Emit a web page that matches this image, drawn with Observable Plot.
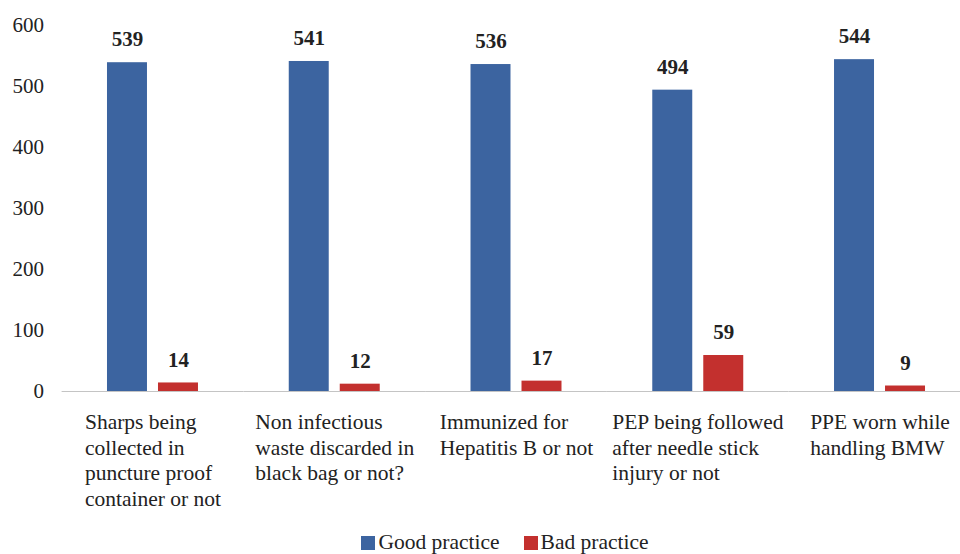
<!DOCTYPE html>
<html>
<head>
<meta charset="utf-8">
<script src="https://cdn.jsdelivr.net/npm/d3@7"></script>
<script src="https://cdn.jsdelivr.net/npm/@observablehq/plot@0.6"></script>
<style>
  html, body { margin: 0; padding: 0; background: #fff; }
  #chart svg { display: block; }
  #chart svg text { font-family: "Liberation Serif", "Times New Roman", serif !important; }
  .legend {
    height: 24px; line-height: 24px; text-align: center; padding-left: 50px;
    font-family: "Liberation Serif", "Times New Roman", serif; font-size: 21.5px; color: #222;
  }
  .legend .item { display: inline-block; margin: 0 12px; }
  .legend .sw { display: inline-block; width: 14px; height: 14px; margin-right: 3px; vertical-align: -1px; }
</style>
</head>
<body>
<div id="chart"></div>
<script>
// Biomedical waste handling practices among respondents
const categories = [
  "Sharps being collected in puncture proof container or not",
  "Non infectious waste discarded in black bag or not?",
  "Immunized for Hepatitis B or not",
  "PEP being followed after needle stick injury or not",
  "PPE worn while handling BMW"
];
const categoryLines = [
  "Sharps being\ncollected in\npuncture proof\ncontainer or not",
  "Non infectious\nwaste discarded in\nblack bag or not?",
  "Immunized for\nHepatitis B or not",
  "PEP being followed\nafter needle stick\ninjury or not",
  "PPE worn while\nhandling BMW"
];
const series = ["Good practice", "Bad practice"];
const goodPractice = [539, 541, 536, 494, 544];
const badPractice = [14, 12, 17, 59, 9];
const yTicks = [0, 100, 200, 300, 400, 500, 600];
const colors = ["#3C64A0", "#C3302E"];

const rows = categories.flatMap((c, i) => [
  {category: c, series: series[0], value: goodPractice[i]},
  {category: c, series: series[1], value: badPractice[i]}
]);

const serif = "'Liberation Serif', 'Times New Roman', serif";
const labelSize = 21.5;

// width of the widest line of each wrapped category label, so the block can be centred
const ctx = document.createElement("canvas").getContext("2d");
ctx.font = `${labelSize}px ${serif}`;
const blockWidths = categoryLines.map(s => d3.max(s.split("\n"), l => ctx.measureText(l).width));

const chart = Plot.plot({
  width: 960,
  height: 530,
  marginTop: 25,
  marginBottom: 139,
  marginLeft: 61,
  marginRight: 0,
  style: {fontFamily: serif, fontSize: "21px", color: "#222", background: "#fff"},
  fx: {domain: categories, range: [61.6, 970.4], padding: 0, axis: null, round: false},
  x: {domain: series, paddingInner: 0.216, paddingOuter: 0.89, axis: null, round: false},
  y: {domain: [0, 600], ticks: yTicks, tickSize: 0, tickPadding: 18, label: null, axis: "left"},
  color: {domain: series, range: colors},
  marks: [
    Plot.ruleY([0], {stroke: "#c4c4c4", strokeWidth: 1}),
    Plot.barY(rows, {fx: "category", x: "series", y: "value", fill: "series"}),
    Plot.text(rows, {
      fx: "category", x: "series", y: "value", text: d => String(d.value),
      dy: -23, fontWeight: "bold", fontSize: 21, fontFamily: serif, fill: "#222"
    }),
    ...categories.map((c, i) => Plot.text([c], {
      fx: d => d, text: () => categoryLines[i],
      frameAnchor: "bottom", textAnchor: "start", lineAnchor: "top",
      dx: -blockWidths[i] / 2, dy: 19, lineHeight: 1.2,
      fontSize: labelSize, fontFamily: serif, fill: "#222"
    }))
  ]
});
document.getElementById("chart").appendChild(chart);

// legend below the chart
const legend = d3.select("body").append("div").attr("class", "legend");
const items = legend.selectAll(".item").data(series).join("span").attr("class", "item");
items.append("span").attr("class", "sw").style("background", (d, i) => colors[i]);
items.append("span").text(d => d);
</script>
</body>
</html>
